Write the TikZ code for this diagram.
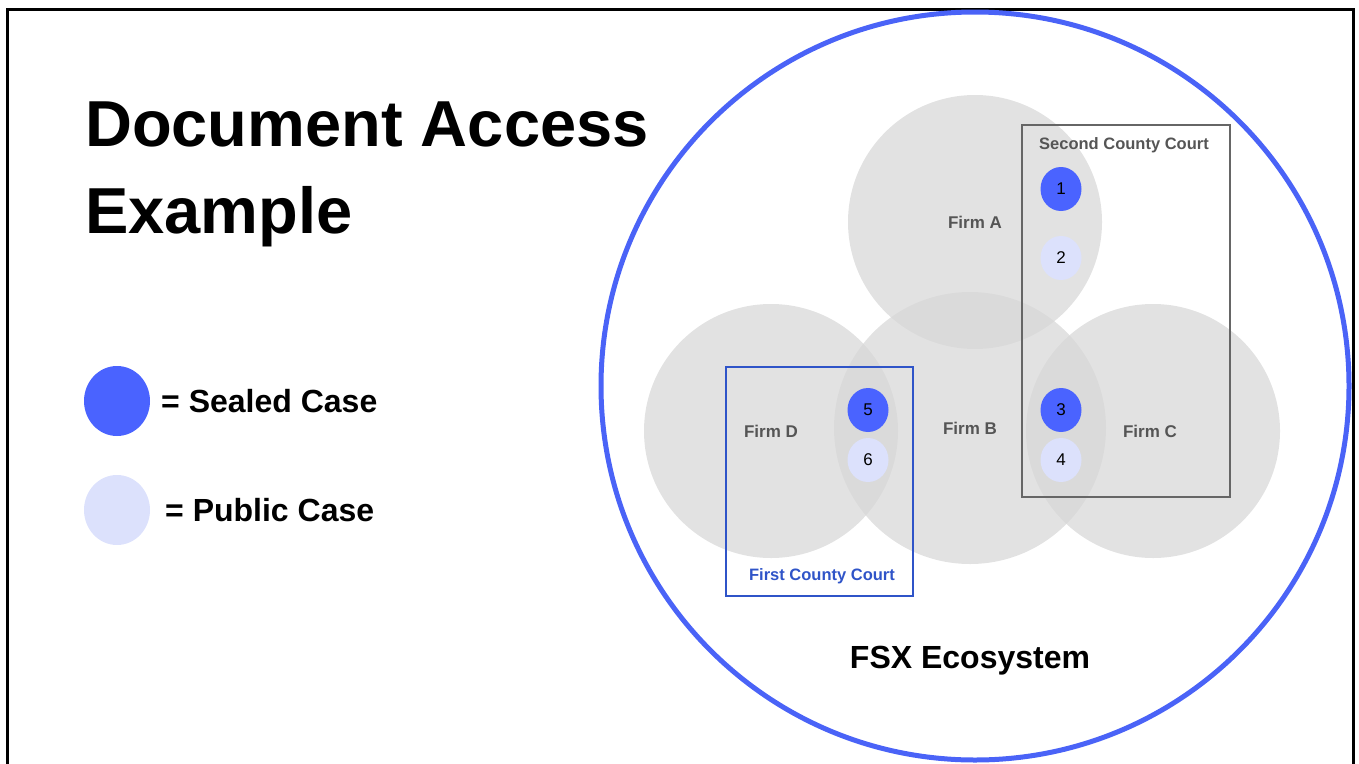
\documentclass[tikz,border=0pt]{standalone}
\usepackage{fontspec}
\setmainfont{Liberation Sans}
\usetikzlibrary{shapes.geometric}
\definecolor{fsxblue}{HTML}{4A63F7}
\definecolor{sealed}{HTML}{4A63FF}
\definecolor{public}{HTML}{DCE1FC}
\definecolor{firmgray}{RGB}{215,215,215}
\definecolor{labelgray}{HTML}{555555}
\definecolor{courtgray}{HTML}{666666}
\definecolor{courtblue}{HTML}{2F54C8}
\tikzset{
  firm/.style={circle, fill=firmgray, fill opacity=0.72, draw=none},
  firmlabel/.style={font=\fontsize{17}{19}\selectfont\bfseries, text=labelgray},
  casebox/.style={ellipse, minimum width=41pt, minimum height=44pt, inner sep=0pt, font=\fontsize{17}{19}\selectfont},
  sealedcase/.style={casebox, fill=sealed},
  publiccase/.style={casebox, fill=public},
  legendtext/.style={font=\fontsize{32}{36}\selectfont\bfseries, anchor=west},
}
\begin{document}
\begin{tikzpicture}[x=1pt,y=-1pt]
\useasboundingbox (0,0) rectangle (1359,763);
% outer frame
\draw[line width=3pt] (7.5,780) -- (7.5,9) -- (1353.5,9) -- (1353.5,780);
% title
\node[anchor=base west, font=\fontsize{65}{70}\selectfont\bfseries, inner sep=0pt] (t1) at (85,146) {Document Access};
\node[anchor=base west, font=\fontsize{65}{70}\selectfont\bfseries, inner sep=0pt] (t2) at (85,233) {Example};
% legend
\node[ellipse, fill=sealed, minimum width=66pt, minimum height=70pt] (ls) at (117,401) {};
\node[legendtext, inner sep=0pt] (lst) at (161,401) {= Sealed Case};
\node[ellipse, fill=public, minimum width=66pt, minimum height=70pt] (lp) at (117,510) {};
\node[legendtext, inner sep=0pt] (lpt) at (165,510) {= Public Case};
% ecosystem
\node[circle, draw=fsxblue, line width=5pt, minimum size=748pt] (eco) at (975,386) {};
\node[font=\fontsize{32}{36}\selectfont\bfseries] (ecot) at (970,661) {FSX Ecosystem};
% firms
\node[firm, minimum size=254pt] (fa) at (975,222) {};
\node[firm, minimum size=272pt] (fb) at (970,428) {};
\node[firm, minimum size=254pt] (fd) at (771,431) {};
\node[firm, minimum size=254pt] (fc) at (1153,431) {};
\node[firmlabel] (fat) at (975,222) {Firm A};
\node[firmlabel] (fbt) at (970,428) {Firm B};
\node[firmlabel] (fct) at (1150,431) {Firm C};
\node[firmlabel] (fdt) at (771,431) {Firm D};
% courts
\draw[courtgray, line width=2.5pt] (1022,125) rectangle (1230,497);
\node[font=\fontsize{16.5}{18}\selectfont\bfseries, text=labelgray] (sc) at (1124,145) {Second County Court};
\draw[courtblue, line width=2.2pt] (726,367) rectangle (913,596);
\node[font=\fontsize{16.5}{18}\selectfont\bfseries, text=courtblue] (fcc) at (822,576) {First County Court};
% cases
\node[sealedcase] (c1) at (1061,189) {1};
\node[publiccase] (c2) at (1061,258) {2};
\node[sealedcase] (c3) at (1061,410) {3};
\node[publiccase] (c4) at (1061,460) {4};
\node[sealedcase] (c5) at (868,410) {5};
\node[publiccase] (c6) at (868,460) {6};
\end{tikzpicture}
\end{document}
